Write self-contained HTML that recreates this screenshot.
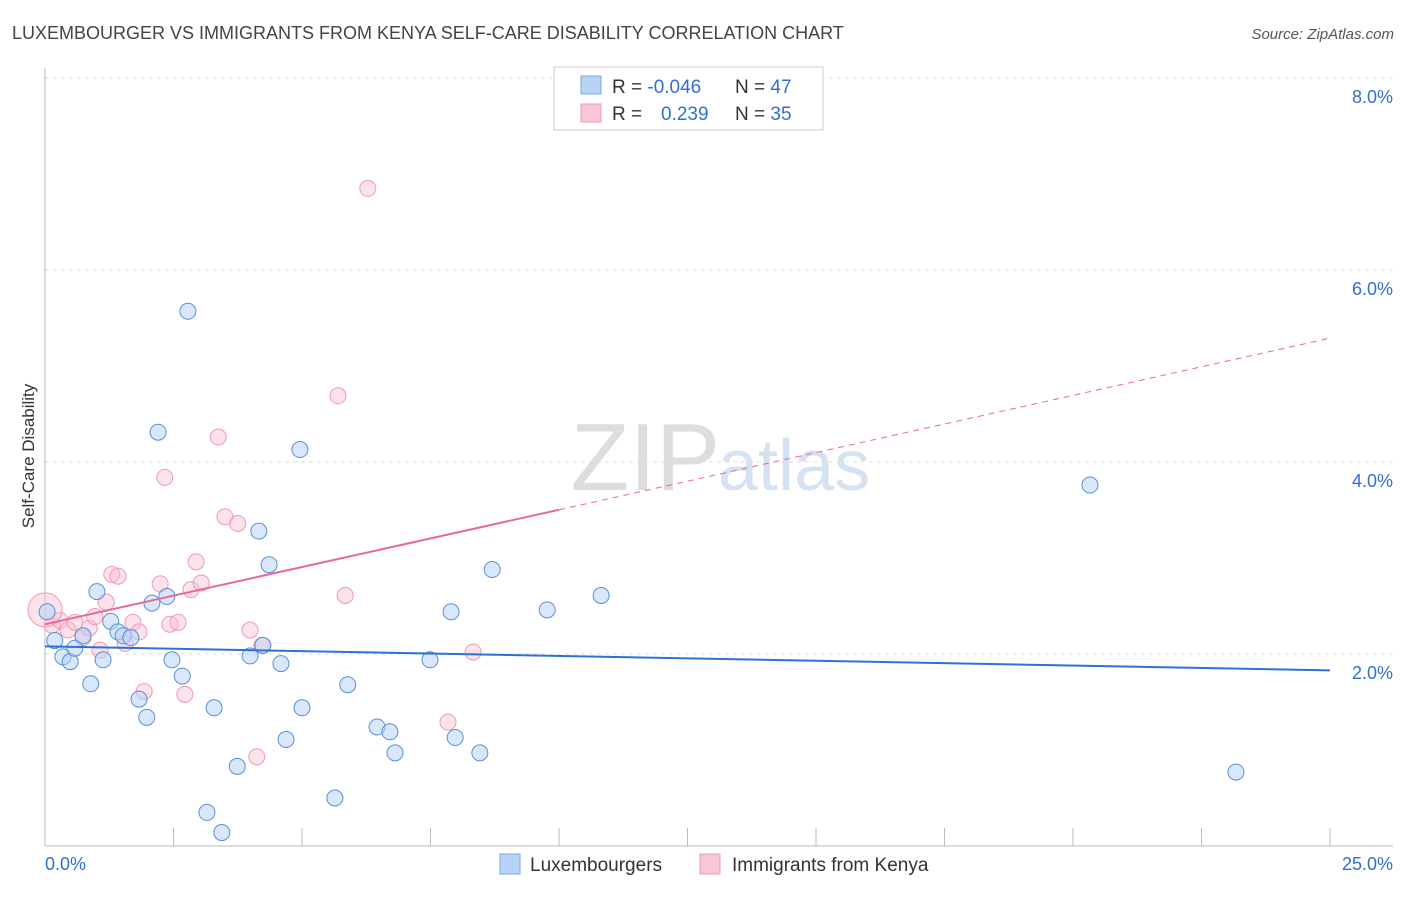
<!DOCTYPE html>
<html><head><meta charset="utf-8"><style>
body{margin:0;background:#fff;font-family:"Liberation Sans",sans-serif;}
svg text{font-family:"Liberation Sans",sans-serif;}
</style></head><body>
<svg id="chart" width="1406" height="892" xmlns="http://www.w3.org/2000/svg">
<text x="12" y="39" font-size="18" fill="#444">LUXEMBOURGER VS IMMIGRANTS FROM KENYA SELF-CARE DISABILITY CORRELATION CHART</text>
<text x="1394" y="39" font-size="15" fill="#555" font-style="italic" text-anchor="end">Source: ZipAtlas.com</text>
<text x="720" y="490" font-size="96" fill="#ddd" text-anchor="end" font-family="Liberation Serif">ZIP</text>
<text x="718" y="490" font-size="72" fill="#d5e2f3">atlas</text>
<text transform="translate(34,456) rotate(-90)" font-size="17" fill="#333" text-anchor="middle">Self-Care Disability</text>
<g id="grid"></g><g id="axes"></g><g id="marks"></g>
<g>
<rect x="554" y="67" width="269" height="63" fill="#fff" stroke="#ccc"/>
<rect x="581" y="76" width="20" height="18" fill="#b8d3f5" stroke="#7aa8e0"/>
<rect x="581" y="104" width="20" height="18" fill="#f9c6d6" stroke="#ef9ab5"/>
<text x="612" y="93" font-size="19" fill="#333">R = <tspan fill="#2f6fd4">-0.046</tspan><tspan x="735">N = </tspan><tspan fill="#2f6fd4">47</tspan></text>
<text x="612" y="120" font-size="19" fill="#333">R = <tspan x="661" fill="#2f6fd4">0.239</tspan><tspan x="735">N = </tspan><tspan fill="#2f6fd4">35</tspan></text>
</g>
<g>
<rect x="500" y="854" width="20" height="20" fill="#b8d3f5" stroke="#7aa8e0"/>
<text x="530" y="871" font-size="19" fill="#333">Luxembourgers</text>
<rect x="700" y="854" width="20" height="20" fill="#f9c6d6" stroke="#ef9ab5"/>
<text x="732" y="871" font-size="19" fill="#333">Immigrants from Kenya</text>
</g>
</svg>
<script>
const yTicks=[2,4,6,8];
const xTickLabels=["0.0%","25.0%"];
const blueX=[0.19,0.35,0.49,0.58,0.74,0.89,1.01,1.13,1.28,1.42,1.52,1.67,1.83,1.98,2.08,2.20,2.37,2.47,2.67,2.78,3.29,3.15,3.44,3.74,3.99,4.16,4.24,4.36,4.59,4.69,4.96,5.00,5.64,5.89,6.46,6.71,6.81,7.49,7.90,7.98,8.46,8.70,9.77,10.82,20.33,23.17,0.04];
const blueY=[2.14,1.97,1.92,2.06,2.19,1.69,2.65,1.94,2.34,2.23,2.19,2.17,1.53,1.34,2.53,4.31,2.60,1.94,1.77,5.57,1.44,0.35,0.14,0.83,1.98,3.28,2.09,2.93,1.90,1.11,4.13,1.44,0.50,1.68,1.24,1.19,0.97,1.94,2.44,1.13,0.97,2.88,2.46,2.61,3.76,0.77,2.44];
const pinkX=[0.14,0.29,0.45,0.58,0.74,0.86,0.97,1.07,1.19,1.30,1.42,1.56,1.71,1.83,1.93,2.24,2.33,2.43,2.59,2.72,2.84,2.94,3.04,3.37,3.50,3.75,3.99,4.12,4.22,5.70,5.84,6.28,7.84,8.33,0];
const pinkY=[2.30,2.35,2.25,2.33,2.17,2.27,2.39,2.04,2.54,2.83,2.81,2.11,2.33,2.23,1.61,2.73,3.84,2.31,2.33,1.58,2.67,2.96,2.74,4.26,3.43,3.36,2.25,0.93,2.09,4.69,2.61,6.85,1.29,2.02,2.46];
const blueTrend=[2.08,1.83];
const pinkTrend=[2.31,5.29];
const NS="http://www.w3.org/2000/svg";
const sx=v=>45+v*51.4, sy=v=>846-v*96;
function mk(tag,attrs,parent){const e=document.createElementNS(NS,tag);for(const k in attrs)e.setAttribute(k,attrs[k]);parent.appendChild(e);return e;}
const grid=document.getElementById('grid'),axes=document.getElementById('axes'),marks=document.getElementById('marks');
yTicks.forEach(t=>{
 const l=mk('line',{x1:45,x2:1393,y1:sy(t),y2:sy(t),stroke:'#ddd','stroke-dasharray':'4,4'},grid);
 
 
 const tx=mk('text',{x:1393,y:sy(t)+25,'font-size':18,fill:'#2f6fd4','text-anchor':'end'},grid);
 tx.textContent=t.toFixed(1)+'%';
 
 
});
mk('line',{x1:45,x2:45,y1:68,y2:846,stroke:'#bbb'},axes);
mk('line',{x1:45,x2:1393,y1:846,y2:846,stroke:'#bbb'},axes);
for(let i=0;i<=10;i++){const v=i*2.5;mk('line',{x1:sx(v),x2:sx(v),y1:828,y2:846,stroke:'#bbb'},axes);}
[[0,'start',45],[25,'end',1393]].forEach((d,i)=>{
 const tx=mk('text',{x:d[2],y:870,'font-size':18,fill:'#2f6fd4','text-anchor':d[1]},axes);
 tx.textContent=xTickLabels[i];
 
 
});
pinkX.forEach((x,i)=>{
 const c=mk('circle',{cx:sx(x),cy:sy(pinkY[i]),r:x===0?17:8,fill:'rgba(249,190,210,0.45)',stroke:'#ef9ab5','stroke-width':1},marks);
 
 
});
blueX.forEach((x,i)=>{
 const c=mk('circle',{cx:sx(x),cy:sy(blueY[i]),r:8,fill:'rgba(184,211,245,0.55)',stroke:'#5b8fd6','stroke-width':1},marks);
 
 
});
const bl=mk('line',{x1:sx(0),y1:sy(blueTrend[0]),x2:sx(25),y2:sy(blueTrend[1]),stroke:'#2a72d6','stroke-width':2},marks);


const pAt=x=>pinkTrend[0]+(pinkTrend[1]-pinkTrend[0])*x/25;
const ps=mk('line',{x1:sx(0),y1:sy(pAt(0)),x2:sx(10),y2:sy(pAt(10)),stroke:'#e8689a','stroke-width':2},marks);


const pd=mk('line',{x1:sx(10),y1:sy(pAt(10)),x2:sx(25),y2:sy(pAt(25)),stroke:'#e8689a','stroke-width':1,'stroke-dasharray':'6,5'},marks);


</script>
</body></html>
